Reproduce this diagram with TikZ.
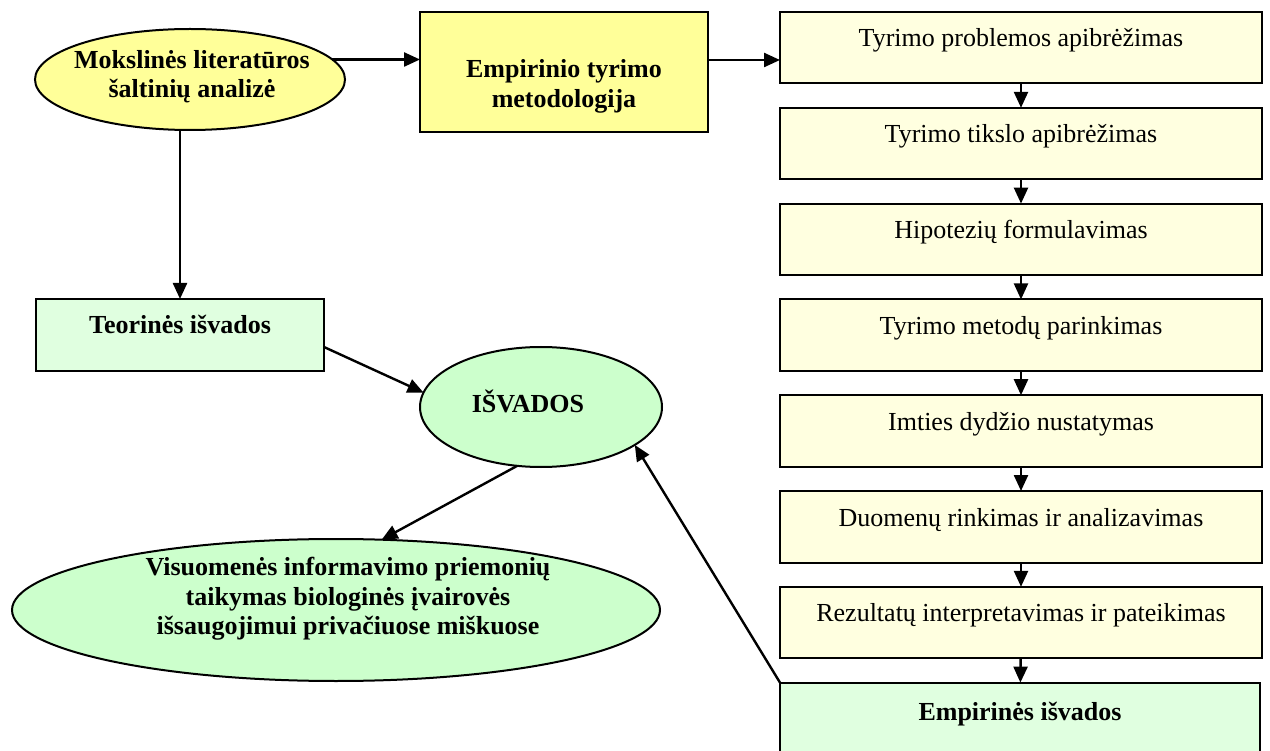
\documentclass[tikz,border=0pt]{standalone}
\usepackage{fontspec}
\setmainfont{Liberation Serif}
\usetikzlibrary{shapes.geometric,arrows.meta}
\definecolor{yel}{HTML}{FFFF99}
\definecolor{ltyel}{HTML}{FFFFE0}
\definecolor{ltgrn}{HTML}{E0FFE0}
\definecolor{grn}{HTML}{CCFFCC}
\begin{document}
\begin{tikzpicture}[x=1pt,y=1pt,
  every node/.style={inner sep=0pt, outer sep=0pt},
  shp/.style={draw=black, line width=2pt},
  ybox/.style={shp, rectangle, fill=ltyel, minimum width=482pt, minimum height=71.5pt},
  gbox/.style={shp, rectangle, fill=ltgrn},
  ell/.style={shp, ellipse},
  txt/.style={font=\fontsize{26}{29.5}\selectfont},
  btxt/.style={font=\fontsize{26}{29.5}\selectfont\bfseries},
  mtxt/.style={btxt, align=center},
  arr/.style={-{Triangle[length=16pt,width=14pt]}, line width=2.4pt}
]
\useasboundingbox (0,0) rectangle (1270,-751);

% left column shapes
\node[ell, fill=yel, minimum width=310pt, minimum height=101pt] (e1) at (190,-79.5) {};
\node[mtxt] (te1) at (192,-76.5) {Mokslinės literatūros\\šaltinių analizė};

\node[shp, rectangle, fill=yel, minimum width=288pt, minimum height=120pt] (emp) at (564,-72) {};
\node[mtxt] (temp) at (564,-86.5) {Empirinio tyrimo\\metodologija};

\node[gbox, minimum width=288pt, minimum height=72pt] (teo) at (180,-335) {};
\node[btxt, anchor=base] (tteo) at (180,-334) {Teorinės išvados};

\node[ell, fill=grn, minimum width=242pt, minimum height=120pt] (isv) at (541,-407) {};
\node[btxt, anchor=base] (tisv) at (528,-413) {IŠVADOS};

\node[ell, fill=grn, minimum width=648pt, minimum height=142pt] (vis) at (336,-610) {};
\node[mtxt] (tvis) at (348,-599) {Visuomenės informavimo priemonių\\taikymas biologinės įvairovės\\išsaugojimui privačiuose miškuose};

% right column
\foreach \i/\t in {1/Tyrimo problemos apibrėžimas,
                   2/Tyrimo tikslo apibrėžimas,
                   3/Hipotezių formulavimas,
                   4/Tyrimo metodų parinkimas,
                   5/Imties dydžio nustatymas,
                   6/Duomenų rinkimas ir analizavimas,
                   7/Rezultatų interpretavimas ir pateikimas} {
  \node[ybox] (b\i) at (1021,{-(12+95.8*(\i-1)+35.75)}) {};
  \node[txt, anchor=base] (tb\i) at ([yshift=-35pt]b\i.north) {\t};
}
\node[gbox, minimum width=480pt, minimum height=72pt] (b8) at (1020,-718.6) {};
\node[btxt, anchor=base] (tb8) at (1020,-720) {Empirinės išvados};

% connectors
\draw[arr] (e1.8) -- (e1.8 -| emp.west);
\draw[arr] ([yshift=12pt]emp.east) -- ([yshift=12pt]emp.east -| b1.west);
\foreach \i [evaluate=\i as \j using int(\i+1)] in {1,...,7} {
  \draw[arr] (b\i) -- (b\j);
}
\draw[arr] (teo.north |- e1.south) -- (teo.north);
\draw[arr] ([yshift=-12pt]teo.east) -- (isv.173);
\draw[arr] (isv.248) -- (vis.57);
\draw[arr] (b8.north west) -- (isv.338);
\end{tikzpicture}
\end{document}
